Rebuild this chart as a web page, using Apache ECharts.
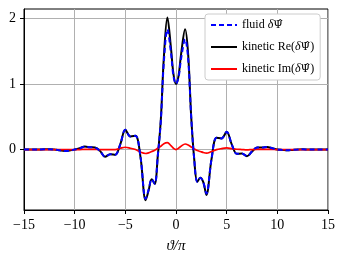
<!DOCTYPE html>
<html><head><meta charset="utf-8">
<script src="https://cdn.jsdelivr.net/npm/echarts@6/dist/echarts.min.js"></script>
<style>html,body{margin:0;padding:0;background:#fff}#c{width:344px;height:260px}</style>
</head><body><div id="c"></div>
<script>
const thetas = [-15,-14,-13,-12.5,-12,-11.5,-11,-10.5,-10,-9.5,-9,-8.5,-8,-7.5,-7,-6.5,-6,-5.5,-5,-4.5,-4,-3.5,-3,-2.7,-2.4,-2.1,-1.8,-1.5,-1.2,-0.85,-0.5,-0.25,0,0.25,0.5,0.9,1.2,1.5,1.8,2.1,2.4,2.7,3,3.5,4,4.5,5,5.5,6,6.5,7,7.5,8,8.5,9,9.5,10,10.5,11,11.5,12,12.5,13,14,15];
const kineticRe = [0,0,0.003,0.005,0,-0.01,-0.02,-0.015,0,0.02,0.045,0.035,0.03,-0.02,-0.11,-0.07,-0.08,0.08,0.30,0.20,0.21,-0.12,-0.77,-0.62,-0.45,-0.52,-0.1,0.45,1.4,2.01,1.55,1.15,1.0,1.12,1.45,1.83,1.45,0.5,-0.15,-0.49,-0.43,-0.5,-0.69,-0.15,0.18,0.17,0.27,0.08,-0.065,-0.06,-0.10,-0.03,0.03,0.03,0.04,0.02,0,-0.005,-0.01,-0.005,0,0.003,0.002,0,0];
const fluid = [0,0,0.003,0.005,0,-0.01,-0.02,-0.015,0,0.02,0.045,0.035,0.03,-0.02,-0.11,-0.07,-0.08,0.08,0.30,0.20,0.21,-0.12,-0.75,-0.61,-0.45,-0.52,-0.1,0.43,1.33,1.83,1.48,1.12,1.0,1.1,1.38,1.68,1.38,0.5,-0.15,-0.49,-0.43,-0.5,-0.67,-0.15,0.18,0.17,0.27,0.08,-0.065,-0.06,-0.10,-0.03,0.03,0.03,0.04,0.02,0,-0.005,-0.01,-0.005,0,0.003,0.002,0,0];
const kineticIm = [0,0,0,0,0,0,0,0,0,0,0.003,0.003,0.002,0,0,0,0,0.02,0.035,0.02,0,-0.04,-0.06,-0.05,-0.03,-0.01,0.02,0.05,0.09,0.105,0.06,0.02,0,0.02,0.05,0.085,0.07,0.04,0.01,-0.015,-0.03,-0.045,-0.055,-0.03,0,0.015,0.025,0.015,0.005,0,-0.005,0,0.003,0.004,0.004,0.002,0,0,0,0,0,0,0,0,0];
const xTicks = [-15,-10,-5,0,5,10,15];
const yTicks = [0,1,2];
const names = ['fluid','kinetic Re','kinetic Im'];
const labels = {
  'fluid':'fluid {i|δ}{p|Ψ\u0302}',
  'kinetic Re':'kinetic Re({i|δ}{p|Ψ\u0302})',
  'kinetic Im':'kinetic Im({i|δ}{p|Ψ\u0302})'
};

const pairs = v => thetas.map((t,i)=>[t,v[i]]);
const font = 'Liberation Serif';
const chart = echarts.init(document.getElementById('c'));
chart.setOption({
  animation:false,
  grid:{left:24,right:16,top:9,bottom:50,show:true,borderColor:'#000',borderWidth:1,backgroundColor:'transparent'},
  xAxis:{type:'value',min:-15,max:15,interval:5,
    name:'ϑ/π',nameLocation:'middle',nameGap:29,
    nameTextStyle:{fontFamily:font,fontStyle:'italic',fontSize:15,color:'#000'},
    axisLine:{onZero:false,lineStyle:{color:'#000',width:1}},
    axisTick:{show:true,length:4,lineStyle:{color:'#000'}},
    axisLabel:{fontFamily:font,fontSize:14,color:'#000',margin:8,formatter:v=>String(v).replace('-','\u2212')},
    splitLine:{show:true,lineStyle:{color:'#b0b0b0',width:1}}},
  yAxis:{type:'value',min:-0.92,max:2.14,
    axisLine:{show:true,onZero:false,lineStyle:{color:'#000',width:1}},
    axisTick:{show:true,length:4,lineStyle:{color:'#000'},customValues:yTicks},
    axisLabel:{fontFamily:font,fontSize:14,color:'#000',margin:8,customValues:yTicks},
    splitLine:{show:true,lineStyle:{color:'#b0b0b0',width:1}}},
  legend:{data:names,orient:'vertical',left:205,top:14,
    backgroundColor:'#fff',borderColor:'#cccccc',borderWidth:1,borderRadius:3,
    padding:[5,6,5,5],itemGap:10,itemWidth:26,itemHeight:12,
    itemStyle:{opacity:0},
    formatter:n=>labels[n],
    textStyle:{fontFamily:font,fontSize:12,color:'#000',
      rich:{i:{fontFamily:font,fontStyle:'italic',fontSize:12},p:{fontFamily:'DejaVu Serif',fontStyle:'normal',fontSize:11}}}},
  series:[
    {name:names[1],type:'line',data:pairs(kineticRe),smooth:0.35,symbol:'none',lineStyle:{color:'#000',width:2},itemStyle:{color:'#000'},z:2},
    {name:names[2],type:'line',data:pairs(kineticIm),smooth:0.35,symbol:'none',lineStyle:{color:'#ff0000',width:1.7},itemStyle:{color:'#ff0000'},z:3},
    {name:names[0],type:'line',data:pairs(fluid),smooth:0.35,symbol:'none',lineStyle:{color:'#0000ff',width:2,type:[5,3]},itemStyle:{color:'#0000ff'},z:4}
  ]
});
</script></body></html>
